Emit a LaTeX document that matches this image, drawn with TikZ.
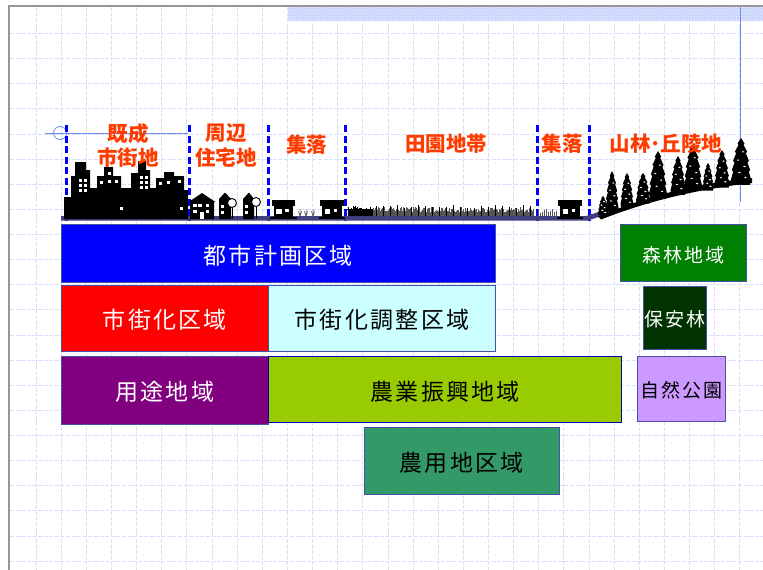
\documentclass[tikz,border=0pt]{standalone}
\usepackage{fontspec}
\setmainfont{Noto Sans CJK JP}
\newfontfamily\zonefont[LetterSpace=10]{Noto Sans CJK JP}
\usetikzlibrary{patterns}

\definecolor{framegray}{RGB}{150,150,150}
\definecolor{gridc}{RGB}{216,223,250}
\definecolor{stripc}{RGB}{200,212,252}
\definecolor{guide}{RGB}{110,140,240}
\definecolor{groundc}{RGB}{64,64,128}
\definecolor{labelc}{RGB}{255,60,0}
\definecolor{zoneedge}{RGB}{72,80,165}
\definecolor{cityblue}{RGB}{0,0,255}
\definecolor{urbred}{RGB}{255,0,0}
\definecolor{ctrlcyan}{RGB}{204,255,255}
\definecolor{usepurple}{RGB}{128,0,128}
\definecolor{agrigreen}{RGB}{153,204,0}
\definecolor{forestgreen}{RGB}{0,128,0}
\definecolor{reservegreen}{RGB}{0,51,0}
\definecolor{parklilac}{RGB}{204,153,255}
\definecolor{farmgreen}{RGB}{51,153,102}
\definecolor{grassgray}{RGB}{85,85,85}

\tikzset{
  gridline/.style={draw=gridc, line width=0.6pt, dash pattern=on 4pt off 1.6pt},
  divider/.style={draw=cityblue, line width=3pt, dash pattern=on 7pt off 3.5pt},
  zone/.style={draw=zoneedge, line width=0.9pt, rectangle, inner sep=0pt},
  zonetext/.style={font={\zonefont\fontsize{23}{26}\selectfont}, inner sep=0pt},
  smalltext/.style={font={\zonefont\fontsize{19}{22}\selectfont}, inner sep=0pt},
  area/.style={text=labelc, font={\bfseries\fontsize{20.5}{24.5}\selectfont}, align=center, inner sep=0pt},
  blade/.style={draw=grassgray, line width=0.5pt},
  darkblade/.style={draw=black, line width=0.6pt},
}

% conifer: apex x, apex y, half width, height
\newcommand{\conifer}[4]{%
  \begin{scope}[shift={(#1,#2)}, xscale=#3, yscale=#4]
    \fill[black] (0,0) -- (0.35,0.12) -- (0.25,0.15) -- (0.62,0.3) -- (0.48,0.33)
      -- (0.8,0.5) -- (0.64,0.53) -- (0.92,0.7) -- (0.78,0.73) -- (1,0.9) -- (0.9,1.02)
      -- (-0.9,1.02) -- (-1,0.9) -- (-0.78,0.73) -- (-0.92,0.7) -- (-0.64,0.53) -- (-0.8,0.5)
      -- (-0.48,0.33) -- (-0.62,0.3) -- (-0.25,0.15) -- (-0.35,0.12) -- cycle;
  \end{scope}
  \fill[white] ({#1+0.2*#3},{#2+0.3*#4}) ellipse [x radius=1.2, y radius=0.7];
  \fill[white] ({#1-0.3*#3},{#2+0.48*#4}) ellipse [x radius=1.2, y radius=0.7];
  \fill[white] ({#1+0.35*#3},{#2+0.62*#4}) ellipse [x radius=1.3, y radius=0.7];
  \fill[white] ({#1-0.15*#3},{#2+0.75*#4}) ellipse [x radius=1.3, y radius=0.7];
  \fill[white] ({#1+0.45*#3},{#2+0.86*#4}) ellipse [x radius=1.3, y radius=0.7];
}

% flat-roofed farm house, left edge of the roof at #1
\newcommand{\farmhouse}[1]{%
  \fill[black] (#1,199.5) rectangle ({#1+23.5},206);
  \fill[black] ({#1+2},206) rectangle ({#1+21.5},218);
  \fill[white] ({#1+4.5},208.5) rectangle ({#1+10},213.5);
  \fill[white] ({#1+13.5},208.5) rectangle ({#1+17},212);
  \fill[black] ({#1-1.5},216.5) rectangle ({#1+25},219);
}

\begin{document}
\begin{tikzpicture}[x=1pt, y=-1pt]
\useasboundingbox (0,0) rectangle (763,570);
\fill[white] (0,0) rectangle (763,570);

% background grid
\foreach \k in {0,...,28}
  \draw[gridline] ({36+25.13*\k},7) -- ({36+25.13*\k},570);
\foreach \k in {0,...,21}
  \draw[gridline] (10,{33.3+25.13*\k}) -- (763,{33.3+25.13*\k});

% frame and patterned header strip
\fill[stripc] (287.5,7) rectangle (763,20.7);
\fill[pattern=crosshatch dots, pattern color=white] (287.5,7) rectangle (763,20.7);
\draw[framegray, line width=2pt] (9,570) -- (9,6) -- (763,6);

% guides
\draw[guide, line width=1.3pt] (740.5,7) -- (740.5,202);
\draw[guide, line width=1pt] (45,133) -- (188,133);
\draw[guide, line width=0.8pt] (60,133) circle [radius=6.5];

% zone dividers
\foreach \xx in {66,189,268.5,345.7,537.3,589.3}
  \draw[divider] (\xx,125) -- (\xx,220);

% ground line
\fill[groundc] (61,216) -- (586,216) -- (600,211.5) -- (603,215.5) -- (588,220.5) -- (61,220.5) -- cycle;

% city skyline
\fill[black] (64,219) -- (64,197) -- (71,197) -- (71,176) -- (75,176) -- (75,162)
  -- (86,162) -- (86,170) -- (90,170) -- (90,188) -- (97,188) -- (97,176)
  -- (104,176) -- (104,167) -- (113,167) -- (113,176) -- (121,176) -- (121,188)
  -- (131,188) -- (131,173) -- (138,173) -- (138,161) -- (146,161) -- (146,170)
  -- (150,170) -- (150,188) -- (156,188) -- (156,178) -- (164,178) -- (164,172)
  -- (174,172) -- (174,176) -- (184,176) -- (184,190) -- (188,190) -- (188,219) -- cycle;
\foreach \wx/\wy in {79/179,83.5/179,79/184,83.5/184,79/189,83.5/189,
  100/181,108/172,108/180,115/180,
  140/176,144.5/176,140/181,144.5/181,140/186,144.5/186,
  159/182,167/181,178/180,120/206.5,180/206.5}
  \fill[white] (\wx,\wy) rectangle ++(3,3);

% suburban houses
\fill[black] (190,219) -- (190,202) -- (188.5,202) -- (202,193) -- (215.5,202) -- (214,202) -- (214,219) -- cycle;
\foreach \wx/\wy in {193.3/203.5,198.3/203.5,206/203.5,193.3/209.5,206/209.5}
  \fill[white] (\wx,\wy) rectangle ++(3.2,3.2);
\fill[white] (200,212) rectangle (203.5,219);

\fill[black] (219,219) -- (219,199) -- (225,192.5) -- (231,199) -- (231,219) -- cycle;
\fill[white] (221,205) rectangle ++(2.6,3);
\fill[white] (221,210.5) rectangle ++(2.6,3);
\draw[black, line width=1pt] (232,207) -- (232,219);
\draw[black, fill=white, line width=0.9pt] (232,203) circle [radius=4.5];

\fill[black] (243,219) -- (243,199) -- (249,192.5) -- (254,199) -- (254,219) -- cycle;
\fill[white] (245,205) rectangle ++(2.6,3);
\fill[white] (245,210.5) rectangle ++(2.6,3);
\draw[black, line width=1pt] (256,206) -- (256,219);
\draw[black, fill=white, line width=0.9pt] (256,202) circle [radius=4.5];

% hamlets
\farmhouse{271.5}
\farmhouse{320}
\farmhouse{558}
\foreach \tx in {300,306,313} {
  \draw[blade] (\tx,217) -- ++(-1.6,-6) (\tx,217) -- ++(0,-8) (\tx,217) -- ++(1.6,-6);
}

% paddy fields
\pgfmathsetseed{7}
\foreach \i in {0,...,24} {
  \pgfmathsetmacro\hh{6+4*rnd}
  \draw[darkblade] ({348+\i},216) -- ++(0,-\hh);
}
\foreach \i in {0,3,...,24} \draw[darkblade] ({347+\i},209.5) -- ++(3,0);
\foreach \i in {0,...,160} {
  \pgfmathsetmacro\hh{4+5*rnd}
  \draw[blade] ({373+\i},216) -- ++(0,-\hh);
}
\foreach \i in {0,7,...,160} {
  \pgfmathsetmacro\hh{8+3*rnd}
  \draw[darkblade] ({376+\i},216) -- ++(0,-\hh);
}
\foreach \i in {0,2,...,18} {
  \pgfmathsetmacro\hh{3+4*rnd}
  \draw[blade] ({538+\i},216) -- ++(0,-\hh);
}

% wooded hills
\fill[black] (598,216.5) .. controls (640,199) and (690,184) .. (752,178)
  -- (752,183) .. controls (690,190) and (640,204) .. (601,219.5) -- cycle;
\conifer{603}{196}{5}{19}
\conifer{612}{171}{6.5}{40}
\conifer{627}{173}{6.5}{34}
\conifer{643}{173}{7}{30}
\conifer{658}{151}{9}{47}
\conifer{678}{156}{7.5}{38}
\conifer{693}{144}{9}{46}
\conifer{708}{163}{5.5}{27}
\conifer{722}{150}{7.5}{37}
\conifer{741}{138}{10}{46}

% area labels
\node[area] (kisei) at (128,145.5) {既成\\市街地};
\node[area] (shuhen) at (226,145.5) {周辺\\住宅地};
\node[area] (shurakuA) at (306.7,144.5) {集落};
\node[area] (denen) at (446,143.3) {田園地帯};
\node[area] (shurakuB) at (562.3,143.3) {集落};
\node[area] (sanrin) at (666,143.3) {山林･丘陵地};

% planning zones
\node[zone, fill=cityblue, minimum width=434.3pt, minimum height=58pt] (toshi) at (278.2,253.7) {};
\node[zone, fill=urbred, minimum width=207.7pt, minimum height=66.7pt] (shigaika) at (164.85,318.35) {};
\node[zone, fill=ctrlcyan, minimum width=226.6pt, minimum height=66.7pt] (chosei) at (382,318.35) {};
\node[zone, fill=usepurple, minimum width=207.7pt, minimum height=68pt] (yoto) at (164.85,390) {};
\node[zone, fill=agrigreen, draw=blue!70!black, minimum width=353pt, minimum height=66.4pt] (noshin) at (445.2,389.5) {};
\node[zone, fill=forestgreen, minimum width=126pt, minimum height=57pt] (shinrin) at (683.7,253.2) {};
\node[zone, fill=reservegreen, minimum width=63.4pt, minimum height=63.3pt] (hoan) at (675,317.65) {};
\node[zone, fill=parklilac, minimum width=88.4pt, minimum height=65pt] (koen) at (681.5,388.5) {};
\node[zone, fill=farmgreen, minimum width=195.6pt, minimum height=66.7pt] (noyo) at (461.8,460.65) {};

\node[zonetext, text=white] (toshiT) at ([yshift=-2.5pt]toshi.center) {都市計画区域};
\node[zonetext, text=white] (shigaikaT) at ([yshift=-1.7pt]shigaika.center) {市街化区域};
\node[zonetext, text=black] (choseiT) at ([yshift=-1.7pt]chosei.center) {市街化調整区域};
\node[zonetext, text=white] (yotoT) at ([yshift=-2pt]yoto.center) {用途地域};
\node[zonetext, text=black] (noshinT) at ([yshift=-2pt]noshin.center) {農業振興地域};
\node[smalltext, text=white] (shinrinT) at ([yshift=-1.8pt]shinrin.center) {森林地域};
\node[smalltext, text=white] (hoanT) at ([yshift=-1.5pt]hoan.center) {保安林};
\node[smalltext, text=black] (koenT) at ([yshift=-2pt]koen.center) {自然公園};
\node[zonetext, text=black] (noyoT) at ([yshift=-2pt]noyo.center) {農用地区域};
\end{tikzpicture}
\end{document}
